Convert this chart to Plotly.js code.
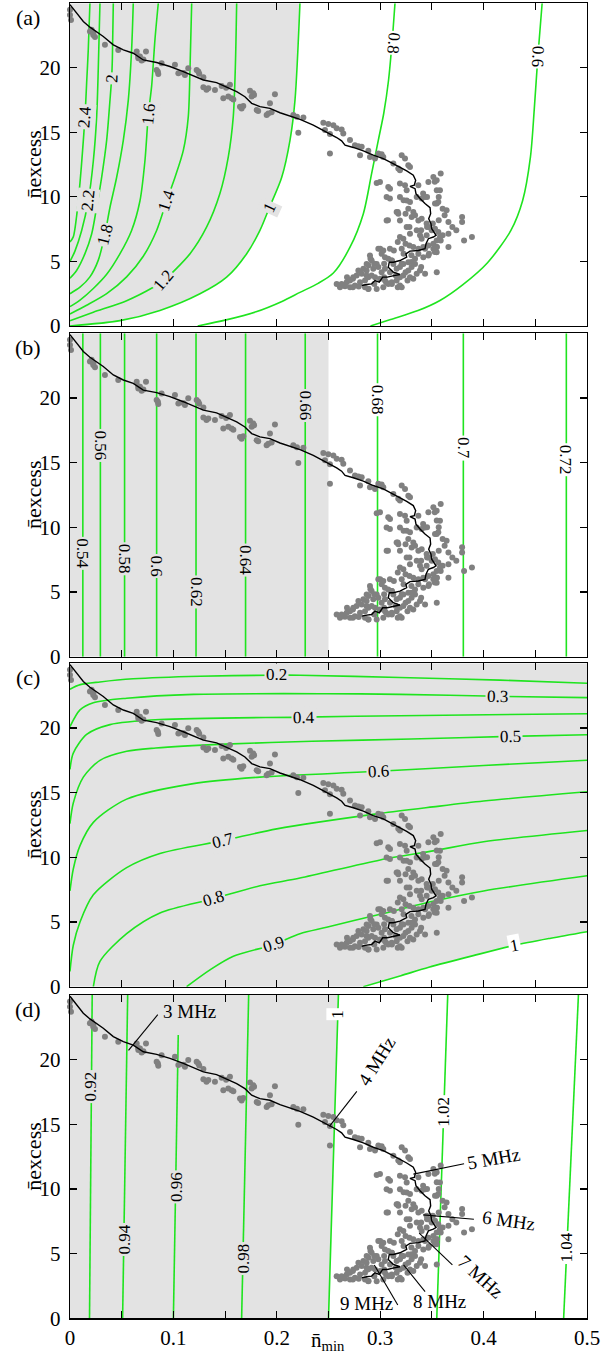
<!DOCTYPE html>
<html><head><meta charset="utf-8">
<script src="https://cdn.plot.ly/plotly-3.0.1.min.js"></script>
<style>body{margin:0;background:#fff}</style>
</head><body>
<div id="chart" style="width:609px;height:1357px"></div>
<script>
// ---------------- data ----------------
const XMAX = 0.5, YMAX = 25;
const xTickVals = [0,0.05,0.1,0.15,0.2,0.25,0.3,0.35,0.4,0.45,0.5];
const xTickText = ['0',' ','0.1',' ','0.2',' ','0.3',' ','0.4',' ','0.5'];
const yTickVals = [0,5,10,15,20];
const panelLetters = ['(a)','(b)','(c)','(d)'];

// running average (black line)
const avgX = [0,0.0065,0.0129,0.0193,0.0258,0.0322,0.0419,0.0516,0.0612,0.0709,0.0838,0.0967,0.1096,0.1193,0.129,0.1418,0.1515,0.1612,0.1692,0.1757,0.1837,0.1934,0.2031,0.2128,0.2225,0.2353,0.2482,0.2579,0.2627,0.266,0.274,0.2837,0.2933,0.303,0.3111,0.3191,0.3256,0.332,0.3343,0.333,0.3288,0.3337,0.3346,0.3385,0.3433,0.3482,0.3488,0.3469,0.3491,0.3498,0.354,0.3514,0.3466,0.3443,0.3433,0.3369,0.3288,0.3249,0.3256,0.3191,0.3127,0.3088,0.3078,0.3127,0.3191,0.3133,0.3069,0.3024,0.2991,0.2949,0.2917,0.2869,0.282];
const avgY = [24.9,24.24,23.59,23.15,22.81,22.43,21.78,21.39,21.13,20.61,20.41,20.1,19.71,19.37,19.06,18.85,18.49,18.15,17.76,17.25,16.99,16.86,16.52,16.26,16.0,15.56,15.04,14.6,14.34,14.01,13.83,13.57,13.23,12.97,12.63,12.32,12.01,11.68,11.29,10.9,10.82,10.64,10.25,9.87,9.48,9.17,8.7,8.31,7.93,7.54,7.02,6.89,6.76,6.37,5.98,5.85,5.8,5.59,5.33,5.07,4.94,4.94,4.55,4.17,3.99,3.9,3.78,3.78,3.39,3.52,3.26,3.21,3.13];

// measured points (grey dots)
const scatterPts = [
[0.000,24.5],[0.000,24.1],[0.001,23.7],[0.0209,22.95],[0.0226,22.69],[0.0193,22.82],[0.0242,22.38],[0.0338,21.78],[0.0467,21.39],[0.0645,21.26],[0.0677,20.87],[0.0661,20.74],[0.0693,20.56],[0.0735,21.26],[0.0838,19.84],[0.0854,19.53],[0.0886,20.35],[0.1015,20.23],[0.1048,19.58],[0.1112,19.45],[0.1144,19.97],[0.1225,19.84],[0.1241,19.71],[0.129,19.27],[0.129,18.49],[0.1338,18.42],[0.1402,18.29],[0.1467,18.6],[0.1483,17.64],[0.1531,17.77],[0.1547,18.68],[0.1563,17.64],[0.1644,16.99],[0.1676,17.04],[0.1741,18.23],[0.1773,18.03],[0.1757,17.77],[0.1805,16.73],[0.1902,16.34],[0.1918,16.47],[0.1934,17.25],[0.1982,17.95],[0.216,16.34],[0.2208,14.97],[0.2257,16.16],
[0.0225,22.55],[0.066,20.9],[0.071,20.65],[0.085,19.7],[0.11,19.6],[0.125,19.55],[0.132,18.3],[0.151,18.45],[0.158,17.55],[0.166,16.85],[0.178,17.9],[0.182,16.65],[0.195,16.55],[0.2195,16.2],
[0.245,15.74],[0.2498,15.64],[0.2547,15.56],[0.2579,15.31],[0.2627,15.23],[0.2643,14.92],[0.2514,14.87],[0.2466,15.18],[0.2514,13.37],[0.2708,14.4],[0.2756,14.01],[0.2789,13.93],[0.2821,13.88],[0.2805,13.23],[0.2885,13.57],[0.2901,13.1],[0.295,12.97],[0.2982,13.37],[0.3014,13.31],[0.303,13.1],[0.3208,13.23],[0.324,12.97],[0.3272,12.45],[0.3288,12.32],[0.3191,12.07],[0.3175,12.2],[0.3127,12.58],
[0.2998,11.16],[0.2966,11.08],[0.3078,10.77],[0.3095,10.64],[0.3191,11.03],[0.324,10.9],[0.3256,10.51],[0.3369,10.9],[0.3466,11.16],[0.3514,11.55],[0.3546,11.29],[0.3062,9.99],[0.3191,9.99],[0.3256,9.73],[0.3288,9.61],[0.3353,9.99],[0.3401,9.87],[0.3433,9.99],[0.353,9.48],[0.3562,9.61],[0.3578,10.51],[0.3159,8.83],[0.3175,8.7],[0.3272,9.09],[0.332,8.83],[0.3304,8.44],[0.3337,8.57],[0.3369,8.18],[0.3401,8.31],[0.3449,7.93],[0.3466,7.67],[0.3498,7.41],[0.353,7.54],[0.3562,7.28],[0.3578,6.89],[0.3546,6.63],[0.3514,6.37],[0.3466,6.24],[0.3417,6.11],[0.3369,5.98],[0.332,6.11],[0.3062,8.18],[0.3191,8.18],[0.3256,7.67],[0.3353,7.41],[0.3288,7.15],[0.3224,6.76],[0.3191,6.89],[0.3385,7.02],[0.3401,6.76],[0.3449,7.02],
[0.3514,5.98],[0.3546,5.72],[0.3466,5.46],[0.3417,5.33],[0.3369,5.59],[0.3337,5.2],[0.3272,4.94],[0.3224,4.81],[0.3191,4.56],[0.3159,4.43],[0.3127,4.81],[0.3111,5.07],[0.3078,5.2],[0.3046,5.33],[0.3014,5.59],[0.2982,5.98],[0.303,5.85],[0.2901,5.46],[0.2966,4.81],[0.2933,4.43],[0.2869,4.3],[0.2821,4.04],[0.2772,3.91],[0.274,3.78],[0.2708,3.52],[0.2676,3.39],[0.2627,3.26],[0.2579,3.26],[0.2611,3.0],[0.266,3.08],[0.2708,3.0],[0.2756,3.13],[0.2805,3.39],[0.2853,3.52],[0.2885,3.78],[0.2917,3.91],[0.295,3.78],[0.2998,3.65],[0.3046,3.52],[0.3078,3.26],[0.3111,3.39],[0.3159,3.52],[0.3191,3.13],[0.303,3.0],[0.2966,2.87],[0.2885,2.87],[0.2853,3.0],[0.3224,3.91],[0.3272,4.3],[0.3304,4.56],[0.3337,4.81],[0.3353,4.04],[0.3385,4.3],[0.3288,3.78],[0.3191,3.78],[0.3095,4.17],[0.3046,4.43],[0.3014,4.17],[0.2982,4.56],[0.2869,4.81],[0.2917,5.07],[0.2837,4.43],[0.2789,4.3],
[0.3585,11.81],[0.3604,9.09],[0.3642,8.96],[0.3623,8.58],[0.366,8.06],[0.3698,7.67],[0.3792,8.45],[0.3792,8.06],[0.3736,7.41],[0.366,7.15],[0.3604,7.02],[0.3811,6.63],[0.3887,6.89],[0.366,6.11],[0.3585,6.63],[0.3566,10.0],[0.3547,10.52],[0.3566,8.19],[0.3547,4.17],[0.3528,11.17],[0.3547,9.48],[0.3547,6.11],[0.3528,5.73],[0.3415,10.26],[0.3453,10.0],[0.3094,9.87],[0.3226,9.74],[0.317,8.83],[0.3245,8.7],[0.3075,8.19],[0.3283,7.67],[0.3396,7.41],[0.3453,7.67],[0.3509,7.93],[0.3283,6.24],[0.3245,6.37],[0.317,6.5],[0.3094,5.98],[0.3,5.98],[0.3302,5.47],[0.3226,5.6],[0.3113,5.08],[0.2943,4.82],[0.2887,4.69],[0.3396,4.56],[0.3245,4.17],[0.3151,3.91],[0.3038,3.78],[0.2868,3.91],[0.2736,3.65],[0.2679,3.78],[0.2642,3.13],[0.2736,3.0],[0.2792,3.06],[0.2887,2.88],[0.2943,3.26],[0.3057,3.39],[0.3113,3.26],[0.317,3.0],[0.3208,3.0],[0.3264,3.52],[0.332,3.65],[0.3434,4.04],[0.3434,5.98],[0.3472,5.6],[0.3547,6.11],[0.3132,5.85],[0.3208,5.98],[0.2906,5.21],[0.3038,4.82],[0.3208,4.82],[0.3302,4.95]
];

// panel (a) contours
const contA_levels = ['2.4','2.2','2','1.8','1.6','1.4','1.2','1','0.8','0.6'];
const contA_x = [
 [0,0.0032,0.0064,0.0097,0.0122,0.0145,0.0161,0.0177,0.0193],
 [0,0.0048,0.0113,0.0177,0.0226,0.0258,0.0274,0.029],
 [0,0.0064,0.0145,0.0209,0.0258,0.0306,0.0355,0.0387,0.0403,0.041,0.0419],
 [0,0.0097,0.0193,0.0274,0.0338,0.0387,0.0451,0.0516,0.0564,0.0596,0.0612],
 [0,0.0097,0.0226,0.0355,0.0484,0.0596,0.0677,0.0725,0.0758,0.079,0.0822,0.0854],
 [0,0.0161,0.0355,0.0548,0.0709,0.0838,0.0935,0.1015,0.1096,0.1144,0.1161,0.1177],
 [0,0.0226,0.0548,0.0806,0.0903,0.1161,0.1322,0.145,0.1531,0.1579,0.1599,0.1612],
 [0,0.0484,0.087,0.1257,0.1515,0.1709,0.1837,0.193,0.2047,0.2128,0.2176,0.2224],
 [0.1235,0.15,0.18,0.205,0.2224,0.24,0.2547,0.2708,0.2837,0.2917,0.2982,0.3035,0.308,0.3115,0.3143],
 [0.2906,0.31,0.3366,0.3578,0.38,0.4038,0.4264,0.4377,0.4453,0.449,0.4525,0.4566]
];
const contA_y = [
 [6.5,6.9,8.5,11.1,13.6,16.2,18.8,21.4,25],
 [5.0,5.8,7.4,9.7,12.8,16.2,20,25],
 [3.7,4.3,5.6,7.1,9.2,11.5,14.4,17.5,19.2,20.7,25],
 [2.5,3.0,3.8,5.1,7.1,9.2,11.5,14.4,17.5,21.4,25],
 [1.5,2.0,2.9,4.0,5.6,7.4,9.7,12.8,16.4,18.6,22.2,25],
 [0.93,1.6,2.5,3.8,5.4,7.4,9.7,11.5,13.6,16.2,20,25],
 [0.41,1.06,1.96,3.0,3.5,5.6,7.67,10.26,13.1,16.2,20,25],
 [0,0.41,1.2,2.49,3.78,5.6,7.4,9.2,11.5,14.4,17.5,25],
 [0,0.45,1.1,1.9,2.6,3.3,4.1,6.1,8.7,11.8,14.4,16.5,19,22,25],
 [0,0.5,1.19,1.97,3.2,4.9,7.4,9.7,13.1,16.8,20.9,25]
];
const contA_labelX = [0.0145,0.0177,0.0403,0.0338,0.0758,0.0935,0.0903,0.193,0.3132,0.4528];
const contA_labelY = [16.2,9.7,19.2,7.1,16.4,9.7,3.5,9.2,21.9,20.9];
const contA_angle = [-86,-84,-88,-76,-84,-72,-50,-65,95,92];
const contA_boundary = 7; // index of the '1' contour = edge of grey region

// panel (b) contours (vertical)
const contB_levels = ['0.54','0.56','0.58','0.6','0.62','0.64','0.66','0.68','0.7','0.72'];
const contB_x = [0.01245,0.0294,0.0528,0.0838,0.1219,0.1698,0.2275,0.2974,0.3804,0.48];
const contB_labelY = [8.0,16.3,7.6,7.0,5.0,7.5,19.4,19.9,16.1,15.2];
const shadeB_edge = 0.25;

// panel (c) contours
const contC_levels = ['0.2','0.3','0.4','0.5','0.6','0.7','0.8','0.9','1'];
const contC_x = [
 [0,0.01,0.029,0.0612,0.1257,0.1934,0.2224,0.319,0.4158,0.5],
 [0,0.0097,0.0226,0.0548,0.1193,0.2482,0.319,0.4126,0.5],
 [0,0.0032,0.0161,0.0387,0.087,0.2256,0.319,0.5],
 [0,0.0032,0.0129,0.029,0.0548,0.083,0.15,0.234,0.33,0.4255,0.5],
 [0,0.0032,0.0097,0.0226,0.0548,0.1193,0.1837,0.2982,0.4,0.5],
 [0,0.0032,0.0097,0.0226,0.0548,0.087,0.1483,0.2,0.3,0.351,0.4,0.5],
 [0.0226,0.029,0.0548,0.087,0.1386,0.1837,0.2224,0.3,0.351,0.4,0.5],
 [0.1128,0.1354,0.158,0.1966,0.2224,0.2482,0.3,0.351,0.4,0.5],
 [0.2837,0.32,0.347,0.39,0.43,0.465,0.5]
];
const contC_y = [
 [23.0,23.35,23.56,23.8,24.0,24.08,24.08,23.9,23.7,23.46],
 [20.1,21.4,21.95,22.3,22.6,22.65,22.6,22.45,22.35],
 [16.8,18.06,19.5,20.26,20.65,20.84,20.95,21.1],
 [12.6,14.2,16.2,17.5,18.2,18.45,18.75,18.97,19.15,19.35,19.48],
 [7.4,9.1,10.9,12.7,14.5,15.7,16.2,16.65,17.1,17.5],
 [1.17,3.2,5.0,7.1,9.2,10.3,11.3,12.2,13.4,13.9,14.35,15.07],
 [0,1.95,4.1,5.7,6.8,7.8,8.4,9.8,10.5,11.2,12.08],
 [0,1.3,2.35,3.25,4.1,4.6,5.6,6.6,7.4,8.57],
 [0,0.85,1.5,2.4,3.2,3.75,4.25]
];
const contC_labelX = [0.2,0.413,0.226,0.426,0.2982,0.1483,0.1386,0.1966,0.43];
const contC_labelY = [24.1,22.45,20.84,19.35,16.65,11.3,6.8,3.25,3.2];
const contC_angle = [0,1,-1,-1,-3,-14,-16,-17,-11];
const contC_boundary = 8;

// panel (d) contours (nearly vertical)
const contD_levels = ['0.92','0.94','0.96','0.98','1','1.02','1.04'];
const contD_x = [[0.0189,0.0215],[0.0509,0.0558],[0.1,0.1047],[0.166,0.1728],[0.25,0.2596],[0.3547,0.3653],[0.4774,0.4917]];
const contD_y = [[0,25],[0,25],[0,21.9],[0,25],[0,25],[0,25],[0,25]];
const contD_labelX = [0.0201,0.0523,0.103,0.168,0.2585,0.361,0.48];
const contD_labelY = [17.9,6.1,10.2,4.6,23.5,16.0,5.5];
const contD_boundary = 4;

// frequency annotations in panel (d)
const freqText = ['3 MHz','4 MHz','5 MHz','6 MHz','7 MHz','8 MHz','9 MHz'];
const freqTextX = [0.1158,0.2962,0.4094,0.4245,0.397,0.3577,0.2868];
const freqTextY = [23.74,19.87,12.39,7.54,3.23,1.29,1.16];
const freqAngle = [0,-58,-10,8,42,0,0];
const leaderX0 = [0.0849,0.2774,0.3811,0.3906,0.3698,0.3434,0.317];
const leaderY0 = [23.48,17.55,11.95,7.66,4.13,2.06,1.03];
const leaderX1 = [0.0566,0.2509,0.3321,0.3415,0.3377,0.3226,0.2943];
const leaderY1 = [20.72,14.84,11.15,8.0,6.58,4.13,4.13];

// ---------------- drawing ----------------
const GREEN = '#1fe41f', GRAY = '#e3e3e3';
const FONT = 'Liberation Serif, Times New Roman, serif';
const domainsY = [[0.7598,0.99757],[0.5161,0.75438],[0.2729,0.5112],[0.0285,0.26676]];
const domainX = [0.1149,0.9639];

const traces = [], ann = [], shapes = [];
const ax = i => (i === 0 ? '' : String(i+1));

function fillTrace(i, xs, ys){
  traces.push({type:'scatter',mode:'lines',x:xs,y:ys,fill:'toself',fillcolor:GRAY,
    line:{width:0,color:GRAY},xaxis:'x'+ax(i),yaxis:'y'+ax(i),hoverinfo:'skip'});
}
function greenTrace(i, xs, ys, spline){
  traces.push({type:'scatter',mode:'lines',x:xs,y:ys,
    line:{color:GREEN,width:1.6,shape:spline?'spline':'linear',smoothing:0.8},
    xaxis:'x'+ax(i),yaxis:'y'+ax(i),hoverinfo:'skip'});
}
function label(i, text, x, y, angle, bg, size){
  ann.push({xref:'x'+ax(i),yref:'y'+ax(i),x:x,y:y,text:text,showarrow:false,
    xanchor:'center',yanchor:'middle',
    textangle:angle,bgcolor:bg,borderpad:1,font:{family:FONT,size:size||17,color:'#000'}});
}

// shaded regions
{
  const bx = contA_x[contA_boundary], by = contA_y[contA_boundary];
  fillTrace(0, [...bx, 0], [...by, YMAX]);
  fillTrace(1, [0, shadeB_edge, shadeB_edge, 0], [0, 0, YMAX, YMAX]);
  const cx = contC_x[contC_boundary], cy = contC_y[contC_boundary];
  fillTrace(2, [0, ...cx, XMAX, 0], [0, ...cy, YMAX, YMAX]);
  const dx = contD_x[contD_boundary], dy = contD_y[contD_boundary];
  fillTrace(3, [0, ...dx, 0], [0, ...dy, YMAX]);
}

// contours + labels
contA_levels.forEach((lv,k)=>{
  greenTrace(0, contA_x[k], contA_y[k], true);
  label(0, lv, contA_labelX[k], contA_labelY[k], contA_angle[k], k>=8 ? '#ffffff' : GRAY);
});
contB_levels.forEach((lv,k)=>{
  greenTrace(1, [contB_x[k], contB_x[k]], [0, YMAX], false);
  label(1, lv, contB_x[k], contB_labelY[k], 90, contB_x[k] < shadeB_edge ? GRAY : '#ffffff');
});
contC_levels.forEach((lv,k)=>{
  greenTrace(2, contC_x[k], contC_y[k], true);
  label(2, lv, contC_labelX[k], contC_labelY[k], contC_angle[k], k === contC_boundary ? '#ffffff' : GRAY);
});
contD_levels.forEach((lv,k)=>{
  greenTrace(3, contD_x[k], contD_y[k], false);
  label(3, lv, contD_labelX[k], contD_labelY[k], -90, k < contD_boundary ? GRAY : '#ffffff');
});

// scatter + average line in every panel
const sx = scatterPts.map(p=>p[0]), sy = scatterPts.map(p=>p[1]);
for (let i=0;i<4;i++){
  traces.push({type:'scatter',mode:'markers',x:sx,y:sy,cliponaxis:false,
    marker:{color:'#808080',size:6},xaxis:'x'+ax(i),yaxis:'y'+ax(i),hoverinfo:'skip'});
  traces.push({type:'scatter',mode:'lines',x:avgX,y:avgY,
    line:{color:'#000',width:1.4},xaxis:'x'+ax(i),yaxis:'y'+ax(i),hoverinfo:'skip'});
}

// frequency labels
freqText.forEach((t,k)=>{
  shapes.push({type:'line',xref:'x4',yref:'y4',x0:leaderX0[k],y0:leaderY0[k],x1:leaderX1[k],y1:leaderY1[k],
    line:{color:'#000',width:1.1}});
  ann.push({xref:'x4',yref:'y4',x:freqTextX[k],y:freqTextY[k],text:t,showarrow:false,
    xanchor:'center',yanchor:'middle',
    textangle:freqAngle[k],font:{family:FONT,size:19,color:'#000'}});
});

const layout = {width:609,height:1357,margin:{l:0,r:0,t:0,b:0},
  paper_bgcolor:'#fff',plot_bgcolor:'#fff',showlegend:false,
  font:{family:FONT,size:20,color:'#000'},annotations:ann,shapes:shapes};

for (let i=0;i<4;i++){
  layout['xaxis'+ax(i)] = {domain:domainX,range:[0,XMAX],anchor:'y'+ax(i),
    tickmode:'array',tickvals:xTickVals,ticktext:xTickText,showticklabels:i===3,
    ticks:'inside',ticklen:7,tickwidth:1.1,tickcolor:'#000',showline:true,linecolor:'#000',linewidth:1.3,
    mirror:'ticks',showgrid:false,zeroline:false,fixedrange:true,tickfont:{family:FONT,size:21}};
  layout['yaxis'+ax(i)] = {domain:domainsY[i],range:[0,YMAX],anchor:'x'+ax(i),
    tickmode:'array',tickvals:yTickVals,ticks:'inside',ticklen:7,tickwidth:1.1,tickcolor:'#000',
    showline:true,linecolor:'#000',linewidth:1.3,mirror:'ticks',showgrid:false,zeroline:false,
    fixedrange:true,tickfont:{family:FONT,size:21},ticklabelstandoff:4};
  const cy = (domainsY[i][0]+domainsY[i][1])/2;
  ann.push({xref:'paper',yref:'paper',x:34/609,y:cy,xanchor:'center',yanchor:'middle',
    text:'n\u0304excess',textangle:-90,showarrow:false,font:{family:FONT,size:22,color:'#000'}});
  ann.push({xref:'paper',yref:'paper',x:28/609,y:domainsY[i][1]-14/1357,xanchor:'center',yanchor:'middle',
    text:panelLetters[i],showarrow:false,font:{family:FONT,size:22,color:'#000'}});
}
ann.push({xref:'paper',yref:'paper',x:328/609,y:1-1341/1357,xanchor:'center',yanchor:'middle',
  text:'n\u0304<sub>min</sub>',showarrow:false,font:{family:FONT,size:21,color:'#000'}});

Plotly.newPlot('chart', traces, layout, {staticPlot:true});
</script></body></html>
